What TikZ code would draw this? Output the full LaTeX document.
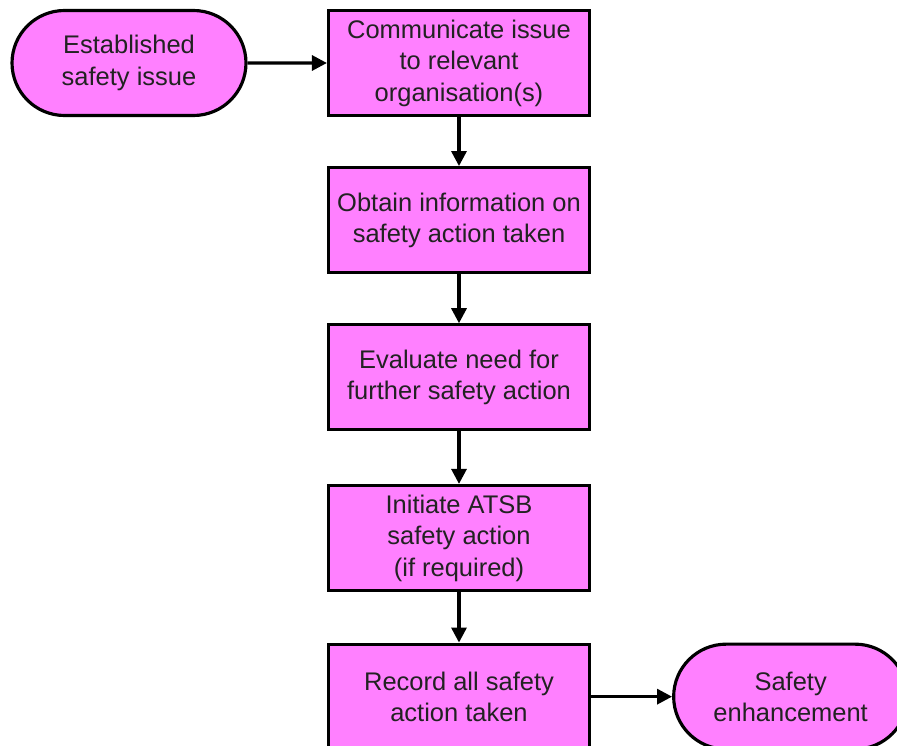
\documentclass[tikz,border=0pt]{standalone}
\usepackage{fontspec}
\setmainfont{Liberation Sans}
\usetikzlibrary{positioning,shapes.misc,arrows.meta}
\definecolor{boxpink}{HTML}{FF80FF}
\definecolor{txtgray}{HTML}{222222}
\tikzset{
	stepbox/.style={draw,line width=1.8pt,fill=boxpink,text=txtgray,
		minimum width=5.22cm,minimum height=2.1cm,inner sep=2pt,
		align=center,font=\fontsize{14.5}{17.9}\selectfont},
	terminal/.style={stepbox,rounded rectangle,minimum width=4.82cm},
	flow/.style={-{Triangle[length=0.3cm,width=0.3cm]},line width=1.8pt}
}
\begin{document}
\begin{tikzpicture}
		\clip (0,0) rectangle (17.94,-14.92);
		\node[terminal] (start) at (2.58,-1.26) {Established\\safety issue};
		\node[stepbox] (comm) at (9.18,-1.26) {Communicate issue\\to relevant\\organisation(s)};
		\node[stepbox,below=0.98cm of comm] (obtain) {Obtain information on\\safety action taken};
		\node[stepbox,below=0.98cm of obtain] (eval) {Evaluate need for\\further safety action};
		\node[stepbox,below=1.05cm of eval] (init) {Initiate ATSB\\safety action\\(if required)};
		\node[stepbox,below=1.01cm of init] (record) {Record all safety\\action taken};
		\node[terminal,right=1.62cm of record] (enh) {Safety\\enhancement};
		\draw[flow] (start)--(comm);
		\draw[flow] (comm)--(obtain);
		\draw[flow] (obtain)--(eval);
		\draw[flow] (eval)--(init);
		\draw[flow] (init)--(record);
		\draw[flow] (record)--(enh);
	\end{tikzpicture}
\end{document}
